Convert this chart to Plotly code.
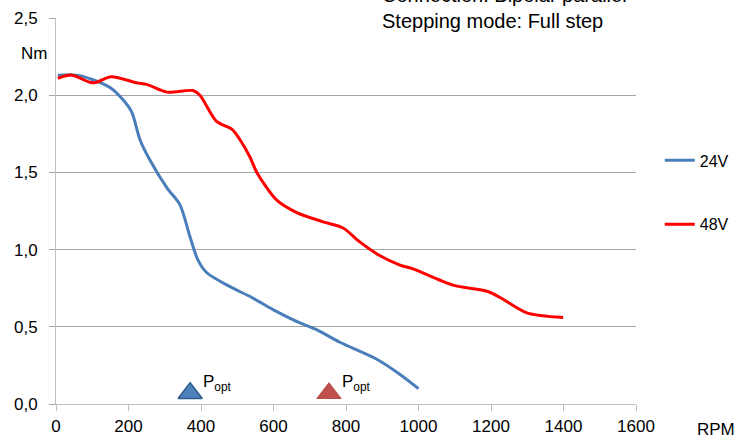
import plotly.graph_objects as go

# ---- data ----
rpm_24 = [5, 57, 102, 149, 185, 209, 232, 259, 306, 342, 370, 392, 416, 480, 540, 600, 673, 720, 783, 885, 950, 1000]
torque_24 = [2.13, 2.13, 2.10, 2.05, 1.97, 1.89, 1.71, 1.58, 1.40, 1.29, 1.08, 0.93, 0.85, 0.76, 0.69, 0.61, 0.525, 0.48, 0.40, 0.29, 0.19, 0.10]

rpm_48 = [5, 44, 102, 152, 223, 250, 306, 378, 397, 443, 485, 508, 535, 554, 609, 664, 737, 792, 838, 894, 949, 985, 1095, 1189, 1225, 1299, 1399]
torque_48 = [2.11, 2.13, 2.08, 2.12, 2.08, 2.07, 2.02, 2.03, 2.00, 1.83, 1.78, 1.71, 1.60, 1.50, 1.32, 1.24, 1.18, 1.14, 1.05, 0.96, 0.90, 0.875, 0.77, 0.73, 0.69, 0.59, 0.56]

series_names = ["24V", "48V"]
popt_rpm = [370, 753]
popt_torque = [0.07, 0.07]
popt_label = "P<sub>opt</sub>"

y_tickvals = [0, 0.5, 1.0, 1.5, 2.0, 2.5]
y_ticktext = ["0,0", "0,5", "1,0", "1,5", "2,0", "2,5"]
x_tickvals = [0, 200, 400, 600, 800, 1000, 1200, 1400, 1600]

info_text = "Connection: Bipolar parallel<br>Stepping mode: Full step"

FONT = "Liberation Sans, Arial, sans-serif"
BLUE = "#4a7ebb"
RED = "#ff0000"

fig = go.Figure()
fig.add_trace(go.Scatter(x=rpm_24, y=torque_24, mode="lines", name=series_names[0],
                         line=dict(color=BLUE, width=3, shape="spline", smoothing=0.8),
                         legendgroup="a"))
fig.add_trace(go.Scatter(x=rpm_48, y=torque_48, mode="lines", name=series_names[1],
                         line=dict(color=RED, width=3, shape="spline", smoothing=0.8),
                         legendgroup="b"))
fig.add_trace(go.Scatter(x=[popt_rpm[0]], y=[popt_torque[0]], mode="markers", showlegend=False,
                         marker=dict(symbol="triangle-up", size=21, color="#4f81bd",
                                     line=dict(color="#2f5b8f", width=1.5))))
fig.add_trace(go.Scatter(x=[popt_rpm[1]], y=[popt_torque[1]], mode="markers", showlegend=False,
                         marker=dict(symbol="triangle-up", size=21, color="#c0504d",
                                     line=dict(color="#b54a47", width=1))))

annotations = []
for xr, yr in zip(popt_rpm, popt_torque):
    annotations.append(dict(x=xr, y=yr, xref="x", yref="y", text=popt_label, showarrow=False,
                            xanchor="left", yanchor="middle", xshift=11, yshift=10,
                            font=dict(family=FONT, size=17, color="#000000")))
annotations.append(dict(x=-0.064, y=0.909, xref="paper", yref="paper", text="Nm", showarrow=False,
                        xanchor="left", yanchor="middle", font=dict(family=FONT, size=17, color="#000000")))
annotations.append(dict(x=1.102, y=-0.067, xref="paper", yref="paper", text="RPM", showarrow=False,
                        xanchor="left", yanchor="middle", font=dict(family=FONT, size=17, color="#000000")))
annotations.append(dict(x=0.559, y=0.959, xref="paper", yref="paper", text=info_text, showarrow=False,
                        xanchor="left", yanchor="bottom", align="left",
                        font=dict(family=FONT, size=20, color="#000000")))

fig.update_layout(
    width=745, height=439,
    margin=dict(l=56, r=109, t=18, b=35, pad=0, autoexpand=False),
    paper_bgcolor="white", plot_bgcolor="white",
    font=dict(family=FONT, size=17, color="#000000"),
    showlegend=True,
    legend=dict(x=1.041, y=0.675, xanchor="left", yanchor="top", traceorder="grouped",
                tracegroupgap=40, font=dict(family=FONT, size=16, color="#000000"),
                bgcolor="rgba(0,0,0,0)"),
    annotations=annotations,
    shapes=[dict(type="rect", xref="paper", yref="paper", x0=0.541, x1=1.01, y0=0.96, y1=1.06,
                 fillcolor="white", line=dict(width=0), layer="above")],
)
fig.update_xaxes(range=[0, 1600], tickvals=x_tickvals, showgrid=False, zeroline=False,
                 showline=True, linecolor="#bfbfbf", linewidth=1,
                 ticks="outside", ticklen=6, tickcolor="#bfbfbf", ticklabelstandoff=1,
                 tickfont=dict(family=FONT, size=17, color="#000000"))
fig.update_yaxes(range=[0, 2.5], tickvals=y_tickvals, ticktext=y_ticktext,
                 showgrid=True, gridcolor="#a6a6a6", gridwidth=1, zeroline=False,
                 showline=True, linecolor="#bfbfbf", linewidth=1,
                 ticks="outside", ticklen=6, tickcolor="#a6a6a6", ticklabelstandoff=8,
                 tickfont=dict(family=FONT, size=17, color="#000000"))

fig.write_html("out.html", config={"displayModeBar": False},
               post_script="document.body.style.margin='0';")
